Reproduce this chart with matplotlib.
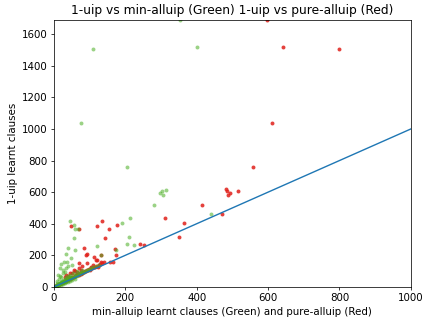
import numpy as np
import matplotlib
matplotlib.use("Agg")
import matplotlib.pyplot as plt

# min-alluip learnt clauses (x) vs 1-uip learnt clauses (y) -- green
green_x = [109, 353, 400, 76, 206, 297, 302, 314, 306, 281, 214, 440, 191, 209, 206, 225,
           44, 56, 67, 58, 56, 40, 58, 121, 133, 173, 35, 21, 28, 37, 17, 26, 11, 47,
           2, 4, 5, 6, 8, 9, 10, 12, 13, 14, 15, 16, 18, 19, 20, 22, 23, 24, 25, 26, 28,
           29, 30, 31, 32, 34, 35, 36, 38, 39, 40, 42, 44, 45, 46, 48, 50, 52, 54, 55, 58,
           60, 62, 64, 66, 68, 70, 72, 75, 78, 80, 84, 88, 92, 96, 100, 105, 110, 118, 125,
           15, 20, 25, 30, 18, 33, 10, 8, 40, 50,
           10, 20, 30, 40, 15, 25, 35, 50, 60, 45]
green_y = [1505, 1690, 1520, 1036, 760, 597, 610, 616, 580, 516, 437, 464, 405, 314, 274, 268,
           418, 392, 367, 367, 312, 247, 236, 259, 203, 234, 207, 143, 160, 160, 118, 108, 76, 181,
           3, 5, 8, 7, 10, 14, 12, 15, 20, 18, 17, 24, 22, 30, 25, 28, 36, 27, 33, 45, 34,
           40, 38, 52, 36, 44, 60, 42, 50, 70, 46, 55, 48, 78, 60, 54, 65, 58, 90, 62, 72,
           66, 80, 70, 100, 76, 85, 80, 95, 86, 110, 92, 100, 104, 108, 115, 118, 125, 132, 140,
           50, 62, 85, 95, 70, 120, 35, 25, 130, 140,
           7, 15, 24, 33, 10, 20, 28, 42, 52, 38]

# pure-alluip learnt clauses (x) vs 1-uip learnt clauses (y) -- red
red_x = [596, 643, 800, 610, 557, 483, 486, 493, 489, 517, 414, 470, 310, 363, 349, 241, 252,
         136, 121, 153, 176, 47, 70, 142, 84, 172, 175, 90, 133, 165, 113, 118, 132, 157, 110,
         124, 93, 69, 92, 103, 121,
         5, 8, 10, 12, 15, 18, 20, 22, 25, 28, 30, 32, 35, 38, 40, 42, 45, 48, 50, 52, 55,
         58, 60, 62, 65, 68, 70, 72, 75, 78, 80, 82, 85, 88, 90, 92, 95, 98, 100, 105, 108,
         112, 115, 120, 125, 130, 135, 140, 60, 70, 80, 50, 40, 30, 55, 65, 75, 45, 35]
red_y = [1690, 1519, 1504, 1036, 759, 618, 610, 597, 580, 610, 517, 464, 437, 405, 314, 274, 268,
         418, 388, 367, 392, 388, 367, 310, 247, 238, 203, 200, 200, 160, 188, 171, 160, 160, 139,
         129, 207, 150, 150, 129, 171,
         6, 9, 11, 14, 17, 20, 22, 26, 28, 31, 35, 37, 40, 42, 46, 50, 52, 55, 58, 62, 64,
         66, 70, 75, 74, 80, 78, 85, 84, 90, 88, 96, 94, 100, 98, 108, 105, 112, 110, 120, 118,
         126, 124, 134, 138, 145, 150, 155, 100, 120, 130, 85, 70, 60, 110, 95, 105, 90, 75]

plt.rcParams['font.size'] = 11

fig = plt.figure(figsize=(6.4, 4.815), dpi=66.875)
ax = plt.gca()
fig.subplots_adjust(left=0.126, right=0.96, top=0.938, bottom=0.109)

ax.scatter(red_x, red_y, s=18, c='#e0201a', alpha=0.85, linewidths=0)
ax.scatter(green_x, green_y, s=18, c='#4aae22', alpha=0.55, linewidths=0)
ax.plot([0, 1000], [0, 1000])

ax.set_xlim(0, 1000)
ax.set_ylim(0, 1690)
ax.set_xlabel('min-alluip learnt clauses (Green) and pure-alluip (Red)')
ax.set_ylabel('1-uip learnt clauses')
ax.set_title('1-uip vs min-alluip (Green) 1-uip vs pure-alluip (Red)')

fig.savefig('out.png', dpi=66.875)
